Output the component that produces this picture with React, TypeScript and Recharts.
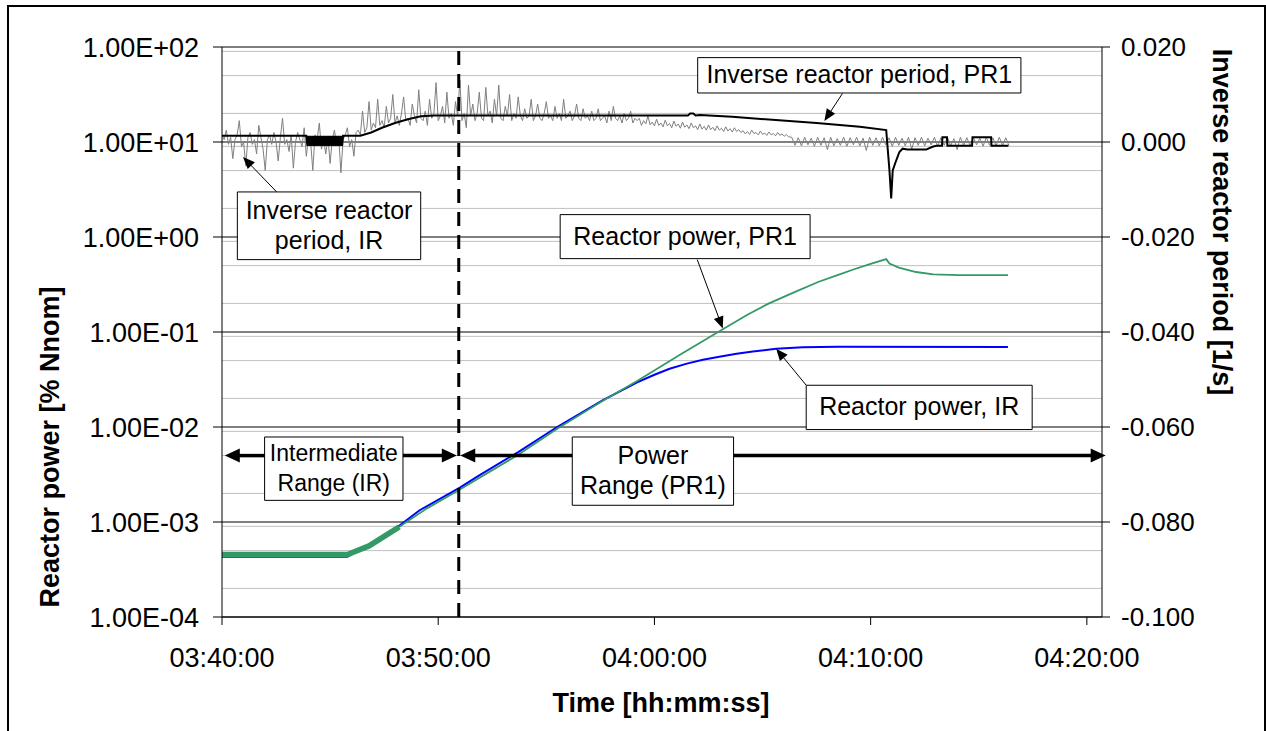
import { ComposedChart, Line, XAxis, YAxis, CartesianGrid, ReferenceLine, ReferenceArea } from "recharts";

const FONT = "'Liberation Sans', Arial, Helvetica, sans-serif";

// x axis: minutes after 03:40:00
const timeTicks = [0, 10, 20, 30, 40];
const powerTicks = [1e-4, 1e-3, 1e-2, 1e-1, 1, 10, 100];
const periodTicks = [-0.1, -0.08, -0.06, -0.04, -0.02, 0, 0.02];
const decades = [1e-4, 1e-3, 1e-2, 1e-1, 1, 10];
const mantissas = [2, 3, 4, 5, 6, 7, 8, 9];

// Inverse reactor period, IR (gray) – units 1e-3 1/s, sampled every 0.1 min from 0
const irPeriodNoise = [
  // 03:40:00 – 03:46:12, noisy around zero
  1.5, 0.5, 2.5, -0.5, 1.0, -3.5, 0.5, 1.5, 4.5, -1.0,
  0.0, -5.0, 1.0, 2.0, -0.5, 0.5, -2.5, 3.5, 1.0, -1.5,
  -6.0, 0.5, 1.5, -0.5, 2.0, 0.0, -4.0, 1.0, 5.0, -0.5,
  0.5, -2.0, 1.5, -5.5, 0.0, 2.0, 0.5, -1.0, 3.0, -3.0,
  1.0, 0.0, -6.0, 1.5, 0.5, 4.0, -1.5, 0.5, -2.5, 1.0,
  -4.5, 0.5, 2.5, -0.5, 1.0, -6.5, 0.5, 1.5, 3.0, -1.0,
  0.5, -3.0, 2.0,
  // 03:46:18 – 03:51:30, rising with upward spikes
  2.5, 1.5, 6.5, 2.0, 3.0, 8.5, 2.5, 4.0, 3.0, 9.0,
  3.5, 4.5, 3.0, 7.5, 4.0, 5.0, 10.0, 4.0, 5.5, 3.5,
  6.0, 9.5, 4.5, 5.0, 3.5, 8.0, 5.5, 4.0, 11.0, 5.0,
  4.5, 6.5, 3.5, 9.0, 5.0, 6.0, 12.5, 4.5, 5.5, 7.5,
  4.0, 10.5, 5.0, 6.0, 3.5, 8.5, 5.5, 13.0, 4.5, 6.0,
  3.0, 12.0, 5.5,
  // 03:51:36 – 03:53:54
  8.0, 4.5, 6.0, 10.5, 5.0, 4.5, 11.5, 5.5, 6.5, 4.0,
  9.0, 5.5, 12.0, 5.0, 4.5, 7.5, 5.5, 10.0, 4.5, 6.0,
  5.0, 9.5, 5.5, 4.5,
  // 03:54:00 – 03:57:00
  7.0, 5.0, 5.5, 9.0, 4.5, 5.5, 8.0, 5.0, 4.5, 6.0,
  8.5, 5.0, 5.5, 4.5, 7.5, 5.0, 6.0, 4.5, 9.0, 5.0,
  5.5, 6.5, 4.5, 5.5, 8.0, 5.0, 4.5, 7.0, 5.0, 5.5, 4.5,
  // 03:57:06 – 03:59:12
  6.5, 4.5, 5.0, 7.0, 4.5, 5.0, 5.5, 4.0, 6.5, 4.5,
  7.5, 5.0, 4.5, 5.5, 4.0, 6.0, 4.5, 5.0, 6.5, 4.0, 5.0, 4.5,
  // 03:59:18 – 04:04:00, slowly decaying
  5.0, 3.5, 4.5, 3.8, 5.5, 3.6, 4.2, 3.4, 4.8, 3.5,
  4.0, 3.2, 4.6, 3.4, 3.9, 3.0, 4.4, 3.3, 3.8, 2.9,
  4.2, 3.1, 3.6, 2.8, 4.0, 3.0, 3.4, 2.6, 3.8, 2.7,
  3.3, 2.5, 3.6, 2.6, 3.1, 2.4, 3.4, 2.5, 2.9, 2.2,
  3.2, 2.3, 2.8, 2.1, 3.0, 2.2, 2.6, 2.0,
  // 04:04:06 – 04:06:12
  2.4, 1.7, 2.2, 1.6, 2.5, 1.8, 2.0, 1.5, 2.3, 1.6, 1.9,
  1.4, 2.1, 1.5, 1.8, 1.3, 2.0, 1.4, 1.7, 1.2, 1.6, 1.1,
];
// after 04:06:21 the IR period only flickers around zero, every 0.15 min
const irPeriodHatch = [
  1.0, -0.7, 0.9, -0.8, 1.0, -0.6, 0.8, -0.9, 1.0, -0.7, 0.9, -1.6,
  1.0, -0.8, 0.7, -0.7, 1.0, -0.9, 0.9, -0.6, 1.0, -0.8, 0.8, -1.8,
  1.0, -0.7, 0.9, -0.8, 1.0, -0.6, 0.9, -0.9, 1.0, -0.7, 0.8, -0.8,
  1.0, -1.5, 0.9, -0.7, 1.0, -0.8, 0.8, -0.6, 1.0, -0.9, 0.9, -0.7,
  1.0, -0.8, 0.7, -1.6, 1.0, -0.7, 0.9, -0.8, 1.0, -0.6, 0.8, -0.9,
  1.0, -0.7, 0.9, -0.8, 1.0, -0.7, 0.9, -0.8,
];

// Inverse reactor period, PR1 (black) – [min, 1e-3 1/s]
const pr1Period: [number, number][] = [
  [0, 1.3], [3.9, 1.3],
  [3.95, -0.8], [4.0, 1.3], [4.05, -0.8], [4.1, 1.3], [4.15, -0.8], [4.2, 1.3], [4.25, -0.8],
  [4.3, 1.3], [4.35, -0.8], [4.4, 1.3], [4.45, -0.8], [4.5, 1.3], [4.55, -0.8], [4.6, 1.3],
  [4.65, -0.8], [4.7, 1.3], [4.75, -0.8], [4.8, 1.3], [4.85, -0.8], [4.9, 1.3], [4.95, -0.8],
  [5.0, 1.3], [5.05, -0.8], [5.1, 1.3], [5.15, -0.8], [5.2, 1.3], [5.25, -0.8], [5.3, 1.3],
  [5.35, -0.8], [5.4, 1.3], [5.45, -0.8], [5.5, 1.3], [5.55, -0.8], [5.6, 1.3],
  [6.4, 1.3], [6.9, 2.0], [7.4, 3.0], [8.0, 4.0], [8.6, 4.8], [9.2, 5.4], [9.8, 5.6],
  [21.55, 5.6], [21.65, 6.0], [21.8, 6.0], [21.9, 5.6], [22.1, 5.7], [23.6, 5.3],
  [27.5, 4.0], [29.5, 3.2], [30.72, 2.5],
  [30.87, -6.0], [30.95, -11.9], [31.02, -6.0], [31.18, -3.9], [31.33, -2.1], [31.48, -1.4],
  [31.7, -1.6], [32.57, -1.6], [32.86, -1.0], [33.04, -0.8], [33.3, -0.8],
  [33.32, 1.0], [33.53, 1.0], [33.55, -0.8], [34.69, -0.8], [34.71, 1.0], [35.57, 1.0],
  [35.59, -0.8], [36.37, -0.8],
];

// Reactor power, PR1 (green) – [min, % Nnom]
const pr1PowerLow: [number, number][] = [
  [0, 4.55e-4], [5.8, 4.55e-4], [6.8, 5.6e-4], [8.2, 8.9e-4],
];
const pr1Power: [number, number][] = [
  [8.2, 8.9e-4], [9.5, 1.4e-3], [11.0, 2.2e-3], [13.7, 5.1e-3], [15.5, 9.6e-3],
  [17.5, 1.82e-2], [19.2, 3.05e-2], [21.2, 5.8e-2], [23.2, 0.108], [24.3, 0.152],
  [25.3, 0.200], [26.4, 0.258], [27.6, 0.338], [28.5, 0.40], [29.2, 0.455],
  [30.0, 0.52], [30.72, 0.585], [30.87, 0.525], [31.3, 0.476],
  [32.1, 0.428], [32.9, 0.405], [34.1, 0.396], [36.35, 0.396],
];

// Reactor power, IR (blue) – [min, % Nnom]
const irPower: [number, number][] = [
  [0, 4.3e-4], [5.8, 4.3e-4], [7.6, 7.2e-4], [9.14, 1.33e-3], [11.0, 2.3e-3],
  [11.9, 3.1e-3], [13.7, 5.45e-3], [15.5, 1.0e-2], [17.6, 1.91e-2], [19.2, 2.95e-2],
  [20.0, 3.55e-2], [20.7, 4.1e-2], [21.5, 4.65e-2], [22.24, 5.1e-2], [23.0, 5.5e-2],
  [23.8, 5.9e-2], [24.55, 6.25e-2], [25.63, 6.65e-2], [26.86, 6.92e-2], [28.5, 7.0e-2],
  [36.35, 6.95e-2],
];

const fromPairs = (p: [number, number][], k = 1) => p.map(([t, v]) => ({ t, v: v * k }));
const fromSamples = (t0: number, step: number, vs: number[], k: number) =>
  vs.map((v, i) => ({ t: Math.round((t0 + i * step) * 1000) / 1000, v: v * k }));

const irPeriodData = [
  ...fromSamples(0, 0.1, irPeriodNoise, 1e-3),
  ...fromSamples(26.35, 0.15, irPeriodHatch, 1e-3),
];
const pr1PeriodData = fromPairs(pr1Period, 1e-3);
const pr1PowerLowData = fromPairs(pr1PowerLow);
const pr1PowerData = fromPairs(pr1Power);
const irPowerData = fromPairs(irPower);

const minorGrid = decades.flatMap((d) => mantissas.map((m) => m * d));

const fmtTime = (m: number) => {
  const total = 220 + m;
  const hh = Math.floor(total / 60);
  const mm = total % 60;
  return `${String(hh).padStart(2, "0")}:${String(mm).padStart(2, "0")}:00`;
};
const fmtPower = (v: number) => {
  const e = Math.round(Math.log10(v));
  return `1.00E${e < 0 ? "-" : "+"}${String(Math.abs(e)).padStart(2, "0")}`;
};

// annotation text boxes, in data units (time, power)
const boxes = [
  { t: [22.0, 36.95], p: [32.8, 77.3], lines: ["Inverse reactor period, PR1"], size: 25 },
  { t: [0.71, 9.19], p: [0.578, 2.98], lines: ["Inverse reactor", "period, IR"], size: 25 },
  { t: [15.64, 27.2], p: [0.592, 1.72], lines: ["Reactor power, PR1"], size: 25 },
  { t: [27.02, 37.47], p: [0.0094, 0.0275], lines: ["Reactor power, IR"], size: 25 },
  { t: [1.97, 8.37], p: [1.69e-3, 7.85e-3], lines: ["Intermediate", "Range (IR)"], size: 23 },
  { t: [16.2, 23.66], p: [1.5e-3, 7.85e-3], lines: ["Power", "Range (PR1)"], size: 25 },
];
// callout arrows: from box to the curve
const callouts = [
  { from: [28.7, 32.5], to: [27.86, 16.6] },
  { from: [2.53, 2.98], to: [0.97, 6.95] },
  { from: [21.98, 0.578], to: [23.16, 0.1086] },
  { from: [27.02, 0.0275], to: [25.63, 0.0668] },
];
// IR / PR1 range arrows
const rangeLevel = 5.0e-3;
const rangeArrows = [
  [1.97, 0.13],
  [8.37, 10.86],
  [16.2, 11.02],
  [23.66, 40.87],
];
const rangeSwitch = 10.95;

const arrowShape = (head: number, width: number, sw: number) => (props: any) => {
  const { x1, y1, x2, y2 } = props;
  const dx = x2 - x1;
  const dy = y2 - y1;
  const len = Math.hypot(dx, dy) || 1;
  const ux = dx / len;
  const uy = dy / len;
  const bx = x2 - ux * head;
  const by = y2 - uy * head;
  const px = (-uy * width) / 2;
  const py = (ux * width) / 2;
  return (
    <g>
      <line x1={x1} y1={y1} x2={bx + ux} y2={by + uy} stroke="#000" strokeWidth={sw} />
      <polygon points={`${x2},${y2} ${bx + px},${by + py} ${bx - px},${by - py}`} fill="#000" />
    </g>
  );
};

const boxLabel = (lines: string[], size: number) => (props: any) => {
  const { x, y, width, height } = props.viewBox;
  const cx = x + width / 2;
  const cy = y + height / 2 - 1;
  const gap = 30;
  return (
    <text textAnchor="middle" fontFamily={FONT} fontSize={size} fill="#000">
      {lines.map((s, i) => (
        <tspan key={i} x={cx} y={cy + (i - (lines.length - 1) / 2) * gap + size * 0.358}>
          {s}
        </tspan>
      ))}
    </text>
  );
};

const tickFont = { fill: "#000", fontSize: 27, fontFamily: FONT };
const rightTickFont = { fill: "#000", fontSize: 26, fontFamily: FONT };
const titleStyle = { fontFamily: FONT, fontSize: 27, fontWeight: 700, fill: "#000" };

export default function App() {
  return (
    <div style={{ position: "absolute", left: 0, top: 0, width: 1266, height: 731, overflow: "hidden", background: "#fff" }}>
      <div style={{ position: "absolute", left: 7, top: 5, width: 1255, height: 800, border: "2px solid #000" }} />
      <div style={{ position: "absolute", left: 0, top: 0 }}>
        <ComposedChart width={1266} height={731} margin={{ top: 47, right: 0, bottom: 0, left: 0 }}>
          <CartesianGrid yAxisId="left" vertical={false} horizontalValues={minorGrid} stroke="#c0c0c0" strokeWidth={1} />
          <CartesianGrid yAxisId="left" vertical={false} horizontalValues={powerTicks} stroke="#000" strokeWidth={1} />
          <XAxis
            dataKey="t"
            type="number"
            domain={[0, 40.7]}
            ticks={timeTicks}
            tickFormatter={fmtTime}
            height={114}
            tick={tickFont}
            tickSize={8}
            tickMargin={23}
            stroke="#000"
            allowDataOverflow
            label={() => (
              <text x={661} y={712} textAnchor="middle" {...titleStyle}>
                Time [hh:mm:ss]
              </text>
            )}
          />
          <YAxis
            yAxisId="left"
            scale="log"
            type="number"
            domain={[1e-4, 100]}
            ticks={powerTicks}
            tickFormatter={fmtPower}
            width={222}
            tick={tickFont}
            tickSize={9}
            tickMargin={14}
            stroke="#000"
            allowDataOverflow
            label={() => (
              <text x={59} y={447} transform="rotate(-90 59 447)" textAnchor="middle" {...titleStyle}>
                Reactor power [% Nnom]
              </text>
            )}
          />
          <YAxis
            yAxisId="right"
            orientation="right"
            type="number"
            domain={[-0.1, 0.02]}
            ticks={periodTicks}
            tickFormatter={(v: number) => v.toFixed(3)}
            width={164}
            tick={rightTickFont}
            tickSize={8}
            tickMargin={11}
            stroke="#000"
            allowDataOverflow
            label={() => (
              <text x={1213} y={222} transform="rotate(90 1213 222)" textAnchor="middle" {...titleStyle}>
                Inverse reactor period [1/s]
              </text>
            )}
          />

          <Line yAxisId="right" data={irPeriodData} dataKey="v" stroke="#808080" strokeWidth={1} dot={false} isAnimationActive={false} />
          <Line yAxisId="right" data={pr1PeriodData} dataKey="v" stroke="#000" strokeWidth={2} dot={false} isAnimationActive={false} />
          <Line yAxisId="left" data={irPowerData} dataKey="v" stroke="#0000ff" strokeWidth={2} dot={false} isAnimationActive={false} />
          <Line yAxisId="left" data={pr1PowerLowData} dataKey="v" stroke="#339966" strokeWidth={5.5} dot={false} isAnimationActive={false} />
          <Line yAxisId="left" data={pr1PowerData} dataKey="v" stroke="#339966" strokeWidth={1.8} dot={false} isAnimationActive={false} />

          <ReferenceLine yAxisId="left" x={rangeSwitch} stroke="#000" strokeWidth={3} strokeDasharray="14 9" />

          {rangeArrows.map(([a, b], i) => (
            <ReferenceLine
              key={`r${i}`}
              yAxisId="left"
              ifOverflow="visible"
              segment={[{ x: a, y: rangeLevel }, { x: b, y: rangeLevel }]}
              shape={arrowShape(15, 14, 3.5)}
            />
          ))}
          {callouts.map((c, i) => (
            <ReferenceLine
              key={`c${i}`}
              yAxisId="left"
              ifOverflow="visible"
              segment={[{ x: c.from[0], y: c.from[1] }, { x: c.to[0], y: c.to[1] }]}
              shape={arrowShape(12, 10, 1)}
            />
          ))}
          {boxes.map((b, i) => (
            <ReferenceArea
              key={`b${i}`}
              yAxisId="left"
              x1={b.t[0]}
              x2={b.t[1]}
              y1={b.p[0]}
              y2={b.p[1]}
              fill="#fff"
              fillOpacity={1}
              stroke="#000"
              strokeWidth={1}
              label={boxLabel(b.lines, b.size)}
            />
          ))}
        </ComposedChart>
      </div>
    </div>
  );
}
